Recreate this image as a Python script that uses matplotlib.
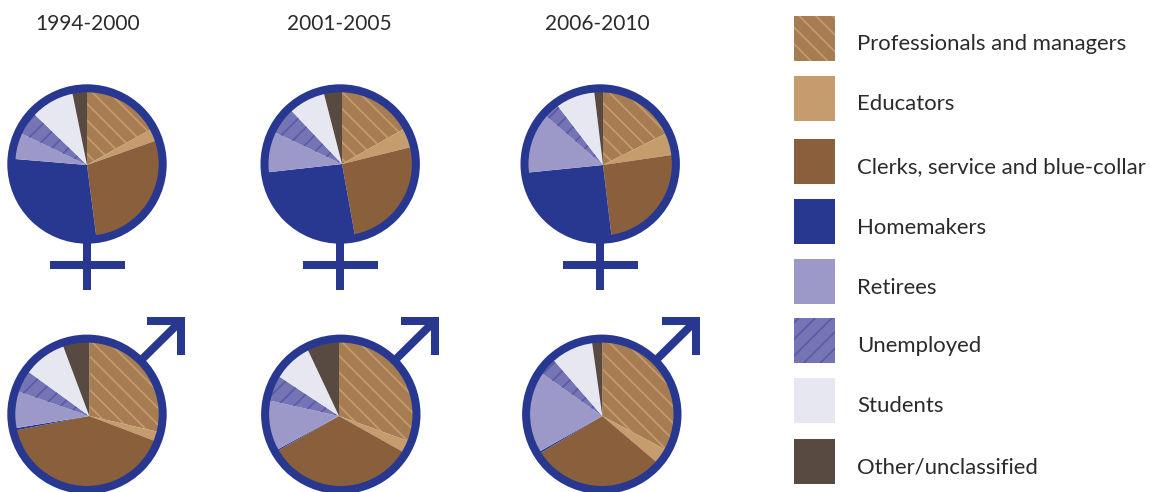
import matplotlib
matplotlib.use('Agg')
from matplotlib import pyplot as plt
from matplotlib.patches import Circle, Rectangle

categories = ['Professionals and managers', 'Educators', 'Clerks, service and blue-collar',
              'Homemakers', 'Retirees', 'Unemployed', 'Students', 'Other/unclassified']
periods = ['1994-2000', '2001-2005', '2006-2010']

# shares in percent, same order as categories
women_1994 = [16.9, 2.7, 28.4, 28.4, 5.8, 5.1, 9.6, 3.2]
women_2001 = [16.8, 4.4, 26.0, 26.1, 8.8, 5.9, 8.1, 4.0]
women_2006 = [17.6, 5.1, 25.4, 25.3, 12.9, 3.3, 8.5, 1.9]
men_1994 = [28.6, 2.2, 41.1, 0.5, 7.9, 4.7, 9.3, 5.7]
men_2001 = [30.5, 2.6, 33.6, 0.3, 11.4, 5.8, 8.7, 7.0]
men_2006 = [32.8, 3.4, 30.2, 0.4, 18.0, 3.8, 9.2, 2.2]

colors = ['#a67c52', '#c49c6e', '#8a5f3b', '#283891', '#9c99c9', '#7574b4', '#e7e7f2', '#594a41']
hatches = {0: ('\\\\', '#c49a6c'), 5: ('//', '#5c5ba8')}
ring_color = '#283891'
text_color = '#2b2b2b'

plt.rcParams['font.family'] = ['Lato', 'DejaVu Sans']
plt.rcParams['hatch.linewidth'] = 1.3

fig = plt.figure(figsize=(11.5, 4.92), dpi=100)
ax = fig.add_axes([0, 0, 1, 1])
H = 492
PX = 0.72  # points per pixel at this dpi


def draw_pie(values, ring_x, ring_y, apex_x, apex_y):
    wedges, _ = ax.pie(values, colors=colors, startangle=90, counterclock=False,
                       center=(apex_x, H - apex_y), radius=95, frame=False)
    clip = Circle((ring_x, H - ring_y), 74, transform=ax.transData)
    for i, w in enumerate(wedges):
        w.set_clip_on(True)
        w.set_clip_path(clip)
        w.set_linewidth(0)
        if i in hatches:
            w.set_hatch(hatches[i][0])
            w.set_edgecolor(hatches[i][1])
    ax.add_patch(Circle((ring_x, H - ring_y), 75.7, facecolor='none',
                        edgecolor=ring_color, linewidth=8 * PX, zorder=5))


def draw_female(x, y):
    ax.plot([x, x], [H - y - 78, H - y - 125.5], color=ring_color, lw=8 * PX,
            solid_capstyle='butt', zorder=4)
    ax.plot([x - 37.5, x + 37.5], [H - y - 101, H - y - 101], color=ring_color, lw=8 * PX,
            solid_capstyle='butt', zorder=4)


def draw_male(x, y):
    ax.plot([x + 54, x + 94.3], [H - y + 54, H - y + 93.8], color=ring_color, lw=8 * PX,
            solid_capstyle='butt', zorder=4)
    ax.plot([x + 60, x + 94.3, x + 94.3], [H - y + 93.8, H - y + 93.8, H - y + 59.3],
            color=ring_color, lw=8 * PX, solid_capstyle='butt', solid_joinstyle='miter', zorder=4)


draw_pie(women_1994, 87, 164, 87, 165)
draw_pie(women_2001, 340.2, 164, 342, 164)
draw_pie(women_2006, 600.2, 164, 603, 165)
draw_pie(men_1994, 87, 414.3, 89.3, 416)
draw_pie(men_2001, 340.8, 414.3, 339, 416)
draw_pie(men_2006, 601.8, 414.3, 602.3, 416)

for x in [87, 340.2, 600.2]:
    draw_female(x, 164)
for x in [87, 340.8, 601.8]:
    draw_male(x, 414.3)

for x, label in zip([88, 339, 597], periods):
    ax.text(x, H - 24, label, ha='center', va='center', fontsize=15, color=text_color)

swatch_tops = [16, 76, 139, 199, 259, 318, 378, 439]
for i, (top, label) in enumerate(zip(swatch_tops, categories)):
    r = Rectangle((794, H - top - 45), 41, 45, facecolor=colors[i], linewidth=0)
    if i in hatches:
        r.set_hatch(hatches[i][0])
        r.set_edgecolor(hatches[i][1])
    ax.add_patch(r)
    ax.text(857, H - top - 28.5, label, ha='left', va='center', fontsize=15.9, color=text_color)

ax.set_xlim(0, 1150)
ax.set_ylim(0, H)
ax.set_aspect('auto')
fig.savefig('out.png', dpi=100)
